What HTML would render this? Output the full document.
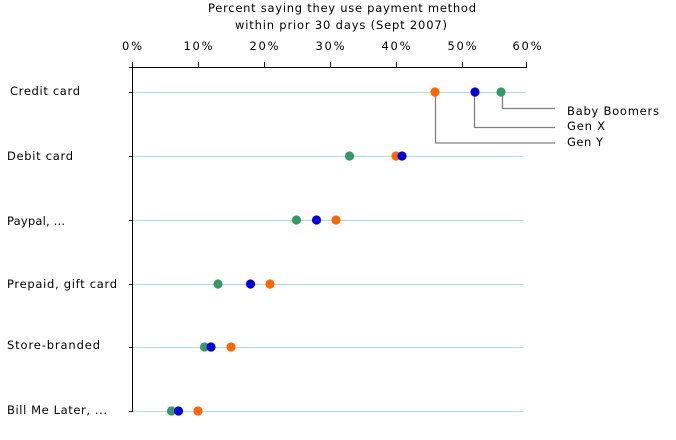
<!DOCTYPE html>
<html>
<head>
<meta charset="utf-8">
<style>
html,body{margin:0;padding:0;background:#fff;}
svg{display:block;}
text{font-family:"DejaVu Sans","Liberation Sans",sans-serif;font-size:11.5px;fill:#000;}
</style>
</head>
<body>
<svg width="676" height="440" viewBox="0 0 676 440" xmlns="http://www.w3.org/2000/svg">
  <!-- title -->
  <text x="208" y="12" textLength="268" lengthAdjust="spacing">Percent saying they use payment method</text>
  <text x="235" y="29" textLength="212" lengthAdjust="spacing">within prior 30 days (Sept 2007)</text>

  <!-- tick labels -->
  <g text-anchor="middle">
    <text x="132" y="50" textLength="20" lengthAdjust="spacing">0%</text>
    <text x="198" y="50" textLength="29" lengthAdjust="spacing">10%</text>
    <text x="264" y="50" textLength="29" lengthAdjust="spacing">20%</text>
    <text x="330" y="50" textLength="29" lengthAdjust="spacing">30%</text>
    <text x="396" y="50" textLength="29" lengthAdjust="spacing">40%</text>
    <text x="462" y="50" textLength="29" lengthAdjust="spacing">50%</text>
    <text x="527" y="50" textLength="29" lengthAdjust="spacing">60%</text>
  </g>

  <!-- grid lines -->
  <g stroke="#b2dfe0" stroke-width="1">
    <line x1="133" y1="92.5" x2="526" y2="92.5"/>
    <line x1="133" y1="156.5" x2="523" y2="156.5"/>
    <line x1="133" y1="220.5" x2="524" y2="220.5"/>
    <line x1="133" y1="284.5" x2="524" y2="284.5"/>
    <line x1="133" y1="347.5" x2="524" y2="347.5"/>
    <line x1="133" y1="411.5" x2="524" y2="411.5"/>
  </g>

  <!-- axes -->
  <g stroke="#000" stroke-width="1">
    <line x1="132.5" y1="67.5" x2="527" y2="67.5"/>
    <line x1="132.5" y1="67" x2="132.5" y2="412"/>
    <!-- top ticks -->
    <line x1="132.5" y1="62" x2="132.5" y2="67"/>
    <line x1="198.5" y1="62" x2="198.5" y2="67"/>
    <line x1="264.5" y1="62" x2="264.5" y2="67"/>
    <line x1="330.5" y1="62" x2="330.5" y2="67"/>
    <line x1="396.5" y1="62" x2="396.5" y2="67"/>
    <line x1="462.5" y1="62" x2="462.5" y2="67"/>
    <line x1="526.5" y1="62" x2="526.5" y2="67"/>
    <!-- left ticks -->
    <line x1="129" y1="67.5" x2="132" y2="67.5"/>
    <line x1="129" y1="92.5" x2="132" y2="92.5"/>
    <line x1="129" y1="156.5" x2="132" y2="156.5"/>
    <line x1="129" y1="220.5" x2="132" y2="220.5"/>
    <line x1="129" y1="284.5" x2="132" y2="284.5"/>
    <line x1="129" y1="347.5" x2="132" y2="347.5"/>
    <line x1="129" y1="411.5" x2="132" y2="411.5"/>
  </g>

  <!-- category labels -->
  <text x="10" y="95" textLength="70" lengthAdjust="spacing">Credit card</text>
  <text x="7" y="160" textLength="66" lengthAdjust="spacing">Debit card</text>
  <text x="7" y="225" textLength="58" lengthAdjust="spacing">Paypal, ...</text>
  <text x="7" y="288" textLength="110" lengthAdjust="spacing">Prepaid, gift card</text>
  <text x="7" y="349" textLength="93" lengthAdjust="spacing">Store-branded</text>
  <text x="7" y="414" textLength="100" lengthAdjust="spacing">Bill Me Later, ...</text>

  <!-- leader lines -->
  <g stroke="#808080" stroke-width="1.3" fill="none">
    <polyline points="502.5,92 502.5,108.5 555,108.5"/>
    <polyline points="474.5,92 474.5,127.5 555,127.5"/>
    <polyline points="435.5,92 435.5,143 555,143"/>
  </g>

  <!-- legend labels -->
  <text x="567" y="115" textLength="92" lengthAdjust="spacing">Baby Boomers</text>
  <text x="567" y="130" textLength="38" lengthAdjust="spacing">Gen X</text>
  <text x="567" y="146" textLength="36" lengthAdjust="spacing">Gen Y</text>

  <!-- dots: green, orange, blue order -->
  <g>
    <!-- Credit card -->
    <circle cx="501" cy="92" r="4.6" fill="#339966"/>
    <circle cx="435" cy="92" r="4.6" fill="#ff6600"/>
    <circle cx="475" cy="92" r="4.6" fill="#0000dd"/>
    <!-- Debit card -->
    <circle cx="349.5" cy="156" r="4.6" fill="#339966"/>
    <circle cx="396" cy="156" r="4.6" fill="#ff6600"/>
    <circle cx="402" cy="156" r="4.6" fill="#0000dd"/>
    <!-- Paypal -->
    <circle cx="296.5" cy="220" r="4.6" fill="#339966"/>
    <circle cx="336" cy="220" r="4.6" fill="#ff6600"/>
    <circle cx="316.5" cy="220" r="4.6" fill="#0000dd"/>
    <!-- Prepaid -->
    <circle cx="218" cy="284" r="4.6" fill="#339966"/>
    <circle cx="270" cy="284" r="4.6" fill="#ff6600"/>
    <circle cx="250.5" cy="284" r="4.6" fill="#0000dd"/>
    <!-- Store-branded -->
    <circle cx="204.5" cy="347" r="4.6" fill="#339966"/>
    <circle cx="231" cy="347" r="4.6" fill="#ff6600"/>
    <circle cx="211" cy="347" r="4.6" fill="#0000dd"/>
    <!-- Bill Me Later -->
    <circle cx="171.5" cy="411" r="4.6" fill="#339966"/>
    <circle cx="198" cy="411" r="4.6" fill="#ff6600"/>
    <circle cx="178.5" cy="411" r="4.6" fill="#0000dd"/>
  </g>
</svg>
</body>
</html>
